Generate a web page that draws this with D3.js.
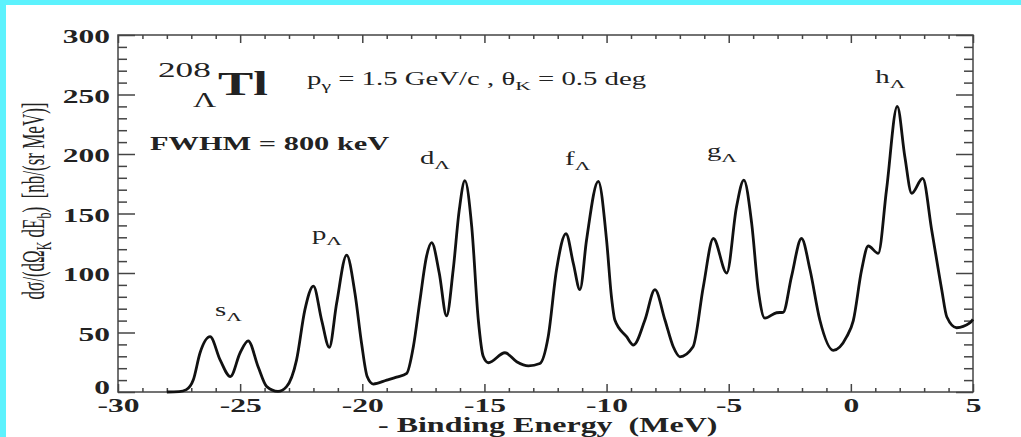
<!DOCTYPE html>
<html>
<head>
<meta charset="utf-8">
<script src="https://cdn.jsdelivr.net/npm/d3@7"></script>
<style>
html, body { margin: 0; padding: 0; background: #fff; }
svg { display: block; }
text { font-family: "Liberation Serif", "Times New Roman", serif; fill: #222; white-space: pre; }
</style>
</head>
<body>
<script>
// spectrum: - binding energy (MeV) vs cross section (nb/(sr MeV))
var energy = [-28.0,-27.5,-27.2,-26.92,-26.64,-26.23,-25.82,-25.4,-25.0,-24.67,-24.26,-23.91,-23.45,-23.1,-22.69,-22.35,-22.0,-21.66,-21.35,-21.05,-20.64,-20.3,-20.03,-19.8,-19.55,-19.0,-18.6,-18.18,-17.91,-17.64,-17.37,-17.16,-16.85,-16.55,-16.28,-16.03,-15.8,-15.52,-15.25,-15.05,-14.84,-14.16,-13.68,-13.2,-12.73,-12.39,-12.05,-11.66,-11.36,-11.09,-10.82,-10.34,-10.0,-9.8,-9.66,-9.18,-8.9,-8.43,-8.02,-7.61,-7.27,-7.0,-6.46,-6.04,-5.63,-5.08,-4.68,-4.38,-4.06,-3.79,-3.52,-3.04,-2.77,-2.43,-2.02,-1.67,-1.27,-0.72,-0.17,0.1,0.44,0.71,1.12,1.46,1.9,2.21,2.49,2.94,3.31,3.72,3.93,4.33,4.87,5.0];
var xsec = [0,0.3,2,10,33,46.5,27,13,33,43,21,4.5,0.5,4.5,27,69,89,60,37.5,74.5,115,83,41,13,6.7,10,12.5,15.7,38,77,114,125.5,100,64,102.5,153,177.6,139,60.5,30,24.6,33,25.5,22,24,46.5,102.5,133,108,86,127.7,177,127.7,80,60.5,46.5,39.5,60.5,86,60.5,38,29.6,38,88.5,129,100,155.7,178,141.7,85.7,62,66.6,67,97,129,102.5,60.5,35,46.5,60,102.5,122.7,116.5,170,240,197.7,167,179.5,136,86,63,54,58,61];

var xTicks = [-30,-25,-20,-15,-10,-5,0,5];
var yTicks = [0,50,100,150,200,250,300];

// shell labels and where they sit (data units)
var shellNames = ["s","p","d","f","g","h"];
var shellLabelE = [-26.03,-22.06,-17.64,-11.7,-5.89,1.0];
var shellLabelY = [64,128,192,191,197.5,260];

var w = 1021, h = 437;
var sx = 1.6;   // the original picture is stretched sideways
var tsx = 1.75; // tick labels look a bit wider still

var svg = d3.select("body").append("svg")
  .attr("width", w)
  .attr("height", h);

// cyan frame on top and left
svg.append("rect").attr("x", 0).attr("y", 0).attr("width", w).attr("height", 5).attr("fill", "#5cf2fd");
svg.append("rect").attr("x", 0).attr("y", 0).attr("width", 6).attr("height", h).attr("fill", "#5cf2fd");

var x = d3.scaleLinear().domain([-30, 5]).range([118, 973]);
var y = d3.scaleLinear().domain([0, 300]).range([392, 35]);

var minorX = d3.range(-30, 6).filter(function(d) { return d % 5 !== 0; });
var minorY = d3.range(0, 301, 10).filter(function(d) { return d % 50 !== 0; });

function styleAxis(g) {
  g.select(".domain").remove();
  g.selectAll("line").attr("stroke", "#444").attr("stroke-width", 1.5);
  g.selectAll("text").attr("font-size", 18).attr("font-weight", "bold").attr("fill", "#222")
    .style("font-family", '"Liberation Serif", "Times New Roman", serif');
}

// bottom
svg.append("g").attr("transform", "translate(0," + y(0) + ")")
  .call(d3.axisBottom(x).tickValues(minorX).tickSizeInner(-4).tickSizeOuter(0).tickFormat(""))
  .call(styleAxis);
var bottom = svg.append("g").attr("transform", "translate(0," + y(0) + ")")
  .call(d3.axisBottom(x).tickValues(xTicks).tickSizeInner(-8).tickSizeOuter(0).tickPadding(7)
    .tickFormat(function(d) { return String(d); }))
  .call(styleAxis);
bottom.selectAll("text").attr("transform", "scale(" + tsx + ",1)");

// top
svg.append("g").attr("transform", "translate(0," + y(300) + ")")
  .call(d3.axisTop(x).tickValues(minorX).tickSizeInner(-4).tickSizeOuter(0).tickFormat(""))
  .call(styleAxis);
svg.append("g").attr("transform", "translate(0," + y(300) + ")")
  .call(d3.axisTop(x).tickValues(xTicks).tickSizeInner(-8).tickSizeOuter(0).tickFormat(""))
  .call(styleAxis);

// left
svg.append("g").attr("transform", "translate(" + x(-30) + ",0)")
  .call(d3.axisLeft(y).tickValues(minorY).tickSizeInner(-9).tickSizeOuter(0).tickFormat(""))
  .call(styleAxis);
var left = svg.append("g").attr("transform", "translate(" + x(-30) + ",0)")
  .call(d3.axisLeft(y).tickValues(yTicks).tickSizeInner(-17).tickSizeOuter(0).tickPadding(8))
  .call(styleAxis);
left.selectAll("text")
  .attr("x", -8 / tsx)
  .attr("dy", function(d) { return d === 0 ? "0.1em" : "0.42em"; })
  .attr("transform", "scale(" + tsx + ",1)");

// right
svg.append("g").attr("transform", "translate(" + x(5) + ",0)")
  .call(d3.axisRight(y).tickValues(minorY).tickSizeInner(-9).tickSizeOuter(0).tickFormat(""))
  .call(styleAxis);
svg.append("g").attr("transform", "translate(" + x(5) + ",0)")
  .call(d3.axisRight(y).tickValues(yTicks).tickSizeInner(-17).tickSizeOuter(0).tickFormat(""))
  .call(styleAxis);

// frame
svg.append("rect")
  .attr("x", x(-30)).attr("y", y(300))
  .attr("width", x(5) - x(-30)).attr("height", y(0) - y(300))
  .attr("fill", "none").attr("stroke", "#444").attr("stroke-width", 1.5);

// spectrum
var pts = energy.map(function(e, i) { return [e, xsec[i]]; });
var line = d3.line()
  .x(function(d) { return x(d[0]); })
  .y(function(d) { return y(d[1]); })
  .curve(d3.curveMonotoneX);
svg.append("path")
  .datum(pts)
  .attr("d", line)
  .attr("fill", "none")
  .attr("stroke", "#111")
  .attr("stroke-width", 2.8)
  .attr("stroke-linejoin", "round");

// text helper: parts = [[string, "n"|"sub"|"sup"], ...]
function label(px, py, parts, size, weight, anchor) {
  var t = svg.append("text")
    .attr("transform", "translate(" + px + "," + py + ") scale(" + sx + ",1)")
    .attr("font-size", size)
    .attr("font-weight", weight || "normal")
    .attr("text-anchor", anchor || "start");
  var shift = 0;
  parts.forEach(function(p) {
    var s = t.append("tspan").text(p[0]);
    var target = p[1] === "sub" ? size * 0.3 : (p[1] === "sup" ? -size * 0.4 : 0);
    s.attr("dy", target - shift);
    if (p[1] !== "n") s.attr("font-size", size * 0.75);
    shift = target;
  });
  return t;
}

// nucleus name
label(158, 77, [["208", "n"]], 22, "normal");
label(193, 107, [["\u039B", "n"]], 20, "normal");
label(218, 95, [["Tl", "n"]], 33, "bold");

label(307, 85, [["p", "n"], ["\u03B3", "sub"], [" = 1.5 GeV/c , \u03B8", "n"], ["K", "sub"], [" = 0.5 deg", "n"]], 18, "normal");
label(150, 150, [["FWHM = 800 keV", "n"]], 19, "bold");

shellNames.forEach(function(n, i) {
  label(x(shellLabelE[i]), y(shellLabelY[i]), [[n, "n"], ["\u039B", "sub"]], 18, "normal");
});

// axis titles
label(378, 432, [["- Binding Energy  (MeV)", "n"]], 20, "bold");

var yl = svg.append("text")
  .attr("transform", "translate(44,201) rotate(-90) scale(1,1.8)")
  .attr("font-size", 17)
  .attr("text-anchor", "middle");
var ylParts = [["d\u03C3/(d\u03A9", 0], ["K", 4], [" dE", 0], ["b", 4], [")  [nb/(sr MeV)]", 0]];
var prev = 0;
ylParts.forEach(function(p) {
  var s = yl.append("tspan").text(p[0]).attr("dy", p[1] - prev);
  if (p[1]) s.attr("font-size", 12);
  prev = p[1];
});
</script>
</body>
</html>
